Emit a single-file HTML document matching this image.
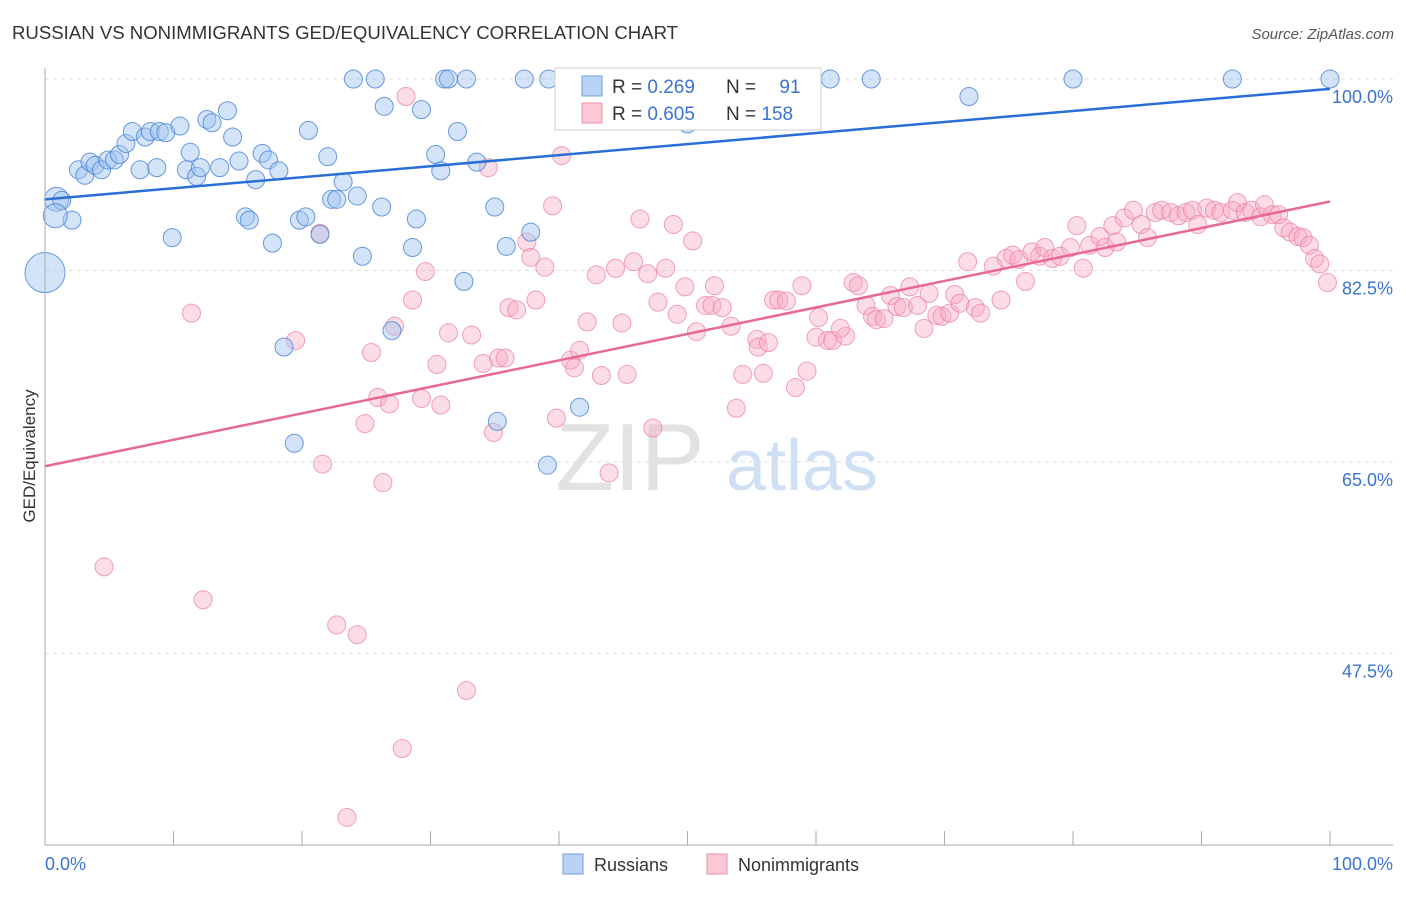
<!DOCTYPE html>
<html><head><meta charset="utf-8"><style>
body{margin:0;background:#fff;font-family:"Liberation Sans",sans-serif;}
svg text{font-family:"Liberation Sans",sans-serif;}
</style></head><body>
<svg id="chart" width="1406" height="892">
<text x="12" y="39" font-size="18.6" fill="#333">RUSSIAN VS NONIMMIGRANTS GED/EQUIVALENCY CORRELATION CHART</text>
<text x="1394" y="39" font-size="15" fill="#555" text-anchor="end" font-style="italic">Source: ZipAtlas.com</text>
<g id="grid"></g>
<text x="630" y="490" font-size="96" fill="#e2e2e2" font-family="Liberation Serif" text-anchor="middle">ZIP</text>
<text x="802" y="490" font-size="72" fill="#d0e0f4" text-anchor="middle">atlas</text>
<g id="pts"></g>
<g id="axes"></g>
<text transform="translate(35,456) rotate(-90)" font-size="17" fill="#333" text-anchor="middle">GED/Equivalency</text>
<g>
<rect x="555" y="68" width="266" height="62" fill="#fff" stroke="#ccc"/>
<rect x="582" y="76" width="20" height="20" fill="#b8d3f5" stroke="#6fa0e0"/>
<rect x="582" y="103" width="20" height="20" fill="#fbc8d6" stroke="#ec90aa"/>
<text x="612" y="93" font-size="19" fill="#333">R = <tspan fill="#3a73d0">0.269</tspan></text>
<text x="726" y="93" font-size="19" fill="#333">N = <tspan fill="#3a73d0" dx="18">91</tspan></text>
<text x="612" y="120" font-size="19" fill="#333">R = <tspan fill="#3a73d0">0.605</tspan></text>
<text x="726" y="120" font-size="19" fill="#333">N = <tspan fill="#3a73d0">158</tspan></text>
</g>
<g>
<rect x="563" y="854" width="20" height="20" fill="#b8d3f5" stroke="#6fa0e0"/>
<text x="594" y="871" font-size="18" fill="#333">Russians</text>
<rect x="707" y="854" width="20" height="20" fill="#fbc8d6" stroke="#ec90aa"/>
<text x="738" y="871" font-size="18" fill="#333">Nonimmigrants</text>
</g>
</svg>
<script>
const yTicks=[100,82.5,65,47.5];
const yTickLabels=["100.0%","82.5%","65.0%","47.5%"];
const xLabels=["0.0%","100.0%"];
const blueX=[0.9,1.3,2.1,0.8,0,2.6,3.1,3.5,3.9,4.4,4.9,5.4,5.8,6.3,6.8,7.4,7.8,8.2,8.7,8.9,9.4,9.9,10.5,11.0,11.3,11.8,12.1,12.6,13.0,13.6,14.2,14.6,15.1,15.6,15.9,16.4,16.9,17.4,17.7,18.2,18.6,19.4,19.8,20.3,20.5,21.4,22.0,22.3,22.7,23.2,24.0,24.3,24.7,25.7,26.2,26.4,27.0,28.9,28.6,29.3,30.4,30.8,31.1,31.4,32.1,32.6,32.8,33.6,35.0,35.2,35.9,37.3,37.8,39.1,39.2,41.6,43.2,47.5,50.0,61.1,64.3,71.9,80.0,92.4,100];
const blueY=[89.0,88.9,87.1,87.5,82.3,91.7,91.2,92.4,92.1,91.7,92.6,92.6,93.1,94.1,95.2,91.7,94.7,95.2,91.9,95.2,95.1,85.5,95.7,91.7,93.3,91.1,91.9,96.3,96.0,91.9,97.1,94.7,92.5,87.4,87.1,90.8,93.2,92.6,85.0,91.6,75.5,66.7,87.1,87.4,95.3,85.8,92.9,89.0,89.0,90.6,100,89.3,83.8,100,88.3,97.5,77.0,87.2,84.6,97.2,93.1,91.6,100,100,95.2,81.5,100,92.4,88.3,68.7,84.7,100,86.0,64.7,100,70.0,100,100,95.9,100,100,98.4,100,100,100];
const blueSize=[12,9,9,12,20];
const pinkX=[28.1,34.5,40.2,39.5,46.3,48.9,50.4,37.5,37.8,38.9,29.6,28.6,42.9,44.4,45.8,46.9,48.3,49.8,52.1,11.4,19.5,21.4,25.4,27.2,30.5,31.4,33.2,34.1,35.3,35.8,36.1,36.7,38.2,40.9,41.2,41.6,42.2,43.3,44.9,45.3,47.7,49.2,50.7,51.4,51.9,52.7,53.4,54.3,55.4,55.5,55.9,56.3,53.8,58.4,59.3,56.7,57.1,57.7,58.9,60.2,60.0,60.9,61.3,62.3,61.9,62.9,63.3,63.9,64.4,64.7,65.3,65.8,66.3,66.8,67.3,67.9,68.4,68.8,69.4,69.8,70.4,70.8,71.2,71.8,72.4,72.8,73.8,74.4,74.8,75.3,75.8,76.3,76.8,77.4,77.8,78.4,79.0,79.8,80.3,80.8,81.3,82.1,82.5,83.1,83.4,84.0,84.7,85.3,85.8,86.4,86.9,87.6,88.2,88.8,89.3,89.7,90.4,91.0,91.5,92.4,92.8,93.4,93.9,94.6,94.9,95.5,96.0,96.4,96.9,97.5,97.9,98.4,98.8,99.2,99.8,24.9,25.9,26.8,29.3,30.8,34.9,39.8,43.9,47.3,21.6,26.3,4.6,12.3,22.7,24.3,32.8,27.8,23.5];
const pinkY=[98.4,91.9,93.0,88.4,87.2,86.7,85.2,85.1,83.7,82.8,82.4,79.8,82.1,82.7,83.3,82.2,82.7,81.0,81.1,78.6,76.1,85.9,75.0,77.4,73.9,76.8,76.6,74.0,74.5,74.5,79.1,78.9,79.8,74.3,73.6,75.2,77.8,72.9,77.7,73.0,79.6,78.5,76.9,79.3,79.3,79.1,77.4,73.0,76.2,75.5,73.1,75.9,69.9,71.8,73.3,79.8,79.8,79.7,81.1,78.2,76.4,76.1,76.1,76.5,77.2,81.4,81.1,79.3,78.3,78.0,78.1,80.2,79.2,79.1,81.0,79.3,77.2,80.4,78.4,78.3,78.6,80.3,79.5,83.3,79.1,78.6,82.9,79.8,83.6,83.9,83.5,81.5,84.2,83.8,84.6,83.6,83.8,84.6,86.6,82.7,84.8,85.6,84.6,86.6,85.1,87.3,88.0,86.7,85.5,87.8,88.0,87.8,87.5,87.8,88.0,86.7,88.2,88.0,87.8,88.0,88.7,87.8,88.0,87.4,88.5,87.6,87.6,86.4,86.0,85.6,85.5,84.8,83.6,83.1,81.4,68.5,70.9,70.3,70.8,70.2,67.7,69.0,64.0,68.1,64.8,63.1,55.4,52.4,50.1,49.2,44.1,38.8,32.5];
const blueTrend=[89.0,99.1];
const pinkTrend=[64.6,88.8];
const NS='http://www.w3.org/2000/svg';
const X0=45,X1=1330,YT=79,PX=10.94;
function sx(v){return X0+(X1-X0)*v/100;}
function sy(v){return YT+(100-v)*PX;}
function mk(tag,attrs,parent){const e=document.createElementNS(NS,tag);for(const k in attrs)e.setAttribute(k,attrs[k]);parent.appendChild(e);return e;}
const grid=document.getElementById('grid'),pts=document.getElementById('pts'),axes=document.getElementById('axes');
yTicks.forEach((t,i)=>{
 const l=mk('line',{x1:45,x2:1393,y1:sy(t),y2:sy(t),stroke:'#ddd','stroke-dasharray':'4,4'},grid);
 
 
 const tx=mk('text',{x:1393,y:sy(t)+24,'font-size':18,fill:'#3a73d0','text-anchor':'end'},axes);
 tx.textContent=yTickLabels[i];
 
 
});
const ya=mk('line',{x1:45,x2:45,y1:68,y2:845,stroke:'#aaa'},axes);


const xa=mk('line',{x1:45,x2:1393,y1:845,y2:845,stroke:'#aaa'},axes);


for(let i=0;i<=10;i++){
 const tk=mk('line',{x1:sx(i*10),x2:sx(i*10),y1:831,y2:845,stroke:'#aaa'},axes);
 
 
}
[[0,'start',45],[100,'end',1393]].forEach((a,i)=>{
 const t=mk('text',{x:a[2],y:870,'font-size':18,fill:'#3a73d0','text-anchor':a[1]},axes);
 t.textContent=xLabels[i];
 
 
});
pinkX.forEach((x,i)=>{
 const c=mk('circle',{cx:sx(x),cy:sy(pinkY[i]),r:9,fill:'rgba(248,170,195,0.4)',stroke:'rgba(236,130,160,0.75)','stroke-width':1},pts);
 
 
});
blueX.forEach((x,i)=>{
 const c=mk('circle',{cx:sx(x),cy:sy(blueY[i]),r:blueSize[i]||9,fill:'rgba(160,195,240,0.45)',stroke:'rgba(70,130,215,0.8)','stroke-width':1},pts);
 
 
});
const bl=mk('line',{x1:sx(0),x2:sx(100),y1:sy(blueTrend[0]),y2:sy(blueTrend[1]),stroke:'#2a6fd6','stroke-width':2.5},pts);


const pl=mk('line',{x1:sx(0),x2:sx(100),y1:sy(pinkTrend[0]),y2:sy(pinkTrend[1]),stroke:'#e8679a','stroke-width':2.5},pts);


</script>
</body></html>
